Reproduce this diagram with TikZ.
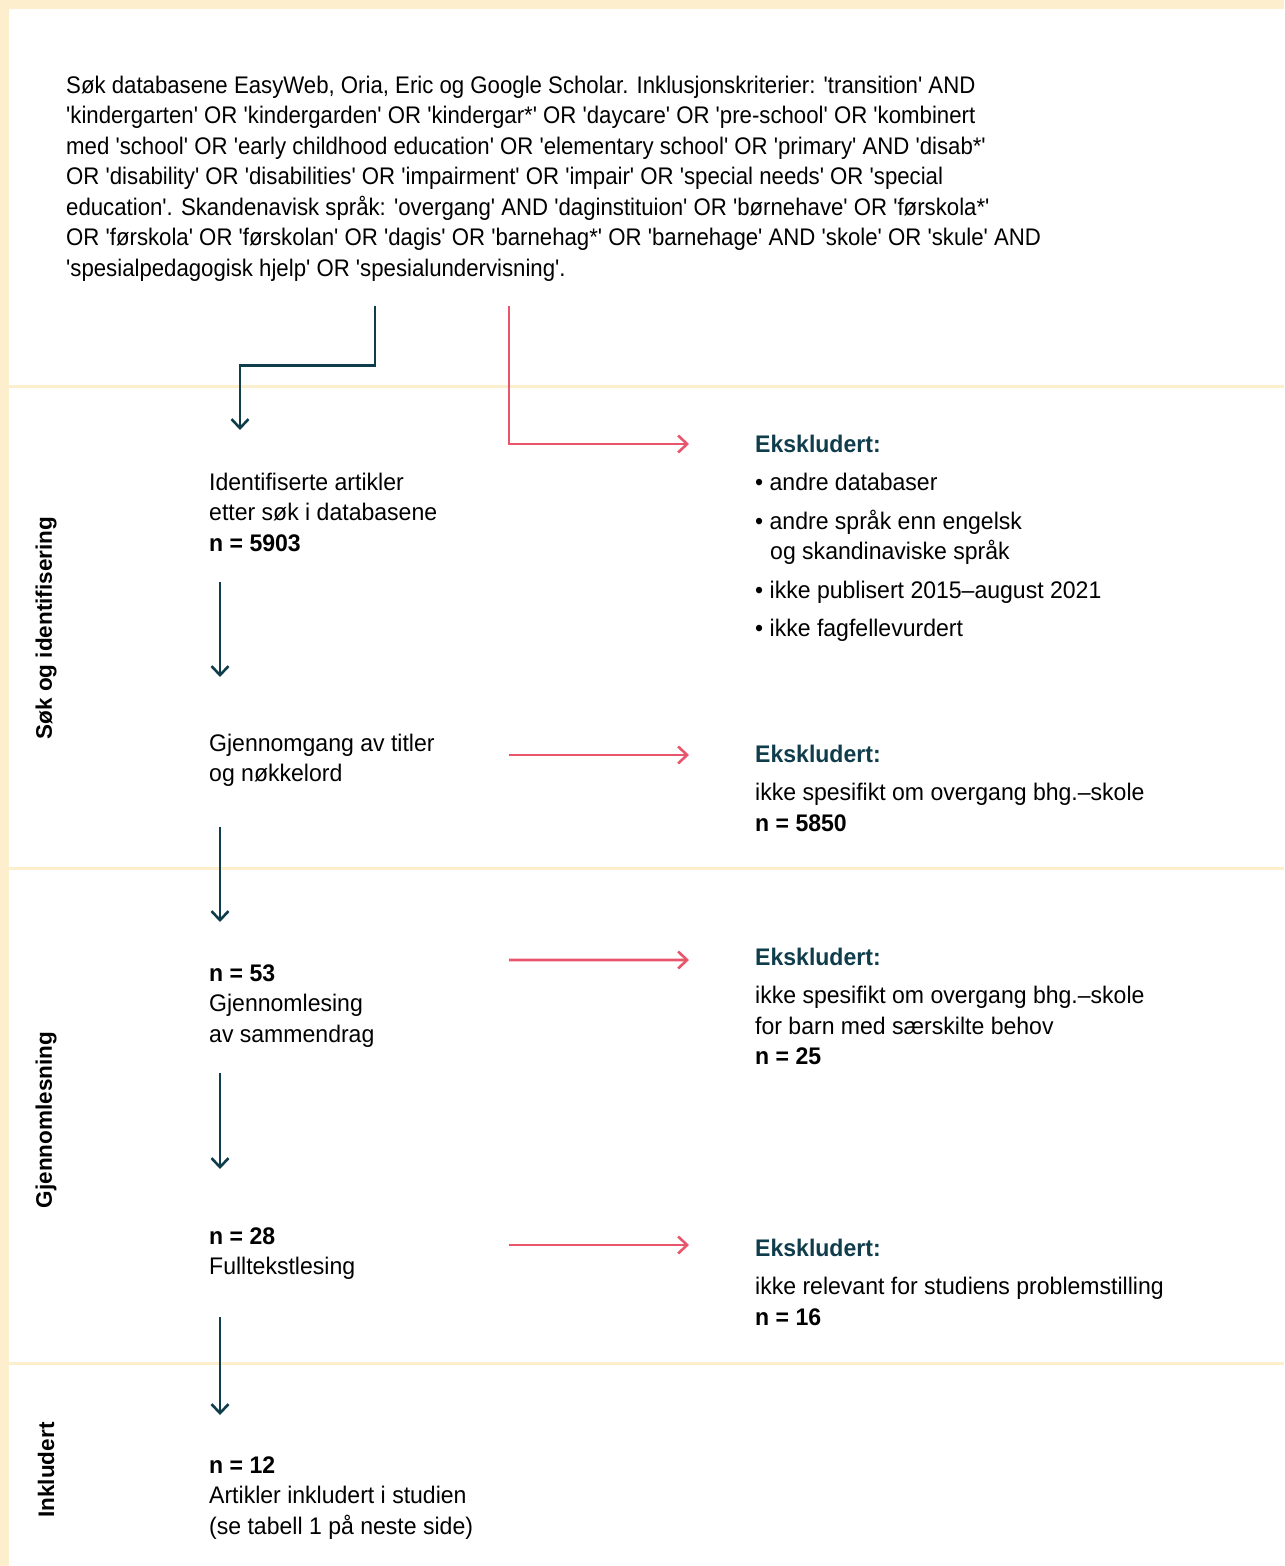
\documentclass[tikz,border=0pt]{standalone}
\usepackage{fontspec}
\setmainfont{Liberation Sans}[FakeStretch=0.96, Ligatures=TeXOff]
\newfontfamily\queryfont{Liberation Sans}[FakeStretch=0.925, Ligatures=TeXOff]
\newfontfamily\labelfont{Liberation Sans}[Ligatures=TeXOff]
\usetikzlibrary{
  arrows.meta,
  calc,
  positioning,
}
\definecolor{creamframe}{RGB}{253, 239, 206}
\definecolor{darkteal}{RGB}{15, 61, 76}
\definecolor{excludepink}{RGB}{233, 86, 107}
\newcommand{\exhead}{\textcolor{darkteal}{\textbf{Ekskludert:}}}
\tikzset{
  >={Straight Barb[length=9bp, width=17bp]},
}

\begin{document}
\begin{tikzpicture}[x=1bp, y=-1bp,
    txt/.style={anchor=north west, inner sep=0pt, align=left,
                font={\fontsize{24bp}{30.5bp}\selectfont}},
    side/.style={rotate=90, inner sep=0pt,
                 font={\labelfont\bfseries\fontsize{22.5bp}{27bp}\selectfont}},
    flow/.style={->, darkteal, line width=2.6bp},
    skip/.style={->, excludepink, line width=2.6bp},
    band/.style={creamframe, line width=3bp}]
  \useasboundingbox (0,0) rectangle (1284,1566);
  % frame and bands
  \fill [creamframe] (0,0) rectangle (1284,9);
  \fill [creamframe] (0,0) rectangle (9,1566);
  \draw [band] (9,386) -- (1284,386);
  \draw [band] (9,868) -- (1284,868);
  \draw [band] (9,1363) -- (1284,1363);
  \node [side] (phase1) at (46,628) {Søk og identifisering};
  \node [side] (phase2) at (46,1120) {Gjennomlesning};
  \node [side] (phase3) at (46,1470) {Inkludert};
  % search string
  \node [txt, font={\queryfont\fontsize{24bp}{30.5bp}\selectfont}] (query) at (66,75.5)
    {Søk databasene EasyWeb, Oria, Eric og Google Scholar. Inklusjonskriterier: 'transition' AND\\
    'kindergarten' OR 'kindergarden' OR 'kindergar*' OR 'daycare' OR 'pre-school' OR 'kombinert\\
    med 'school' OR 'early childhood education' OR 'elementary school' OR 'primary' AND 'disab*'\\
    OR 'disability' OR 'disabilities' OR 'impairment' OR 'impair' OR 'special needs' OR 'special\\
    education'. Skandenavisk språk: 'overgang' AND 'daginstituion' OR 'børnehave' OR 'førskola*'\\
    OR 'førskola' OR 'førskolan' OR 'dagis' OR 'barnehag*' OR 'barnehage' AND 'skole' OR 'skule' AND\\
    'spesialpedagogisk hjelp' OR 'spesialundervisning'.};
  % main flow
  \node [txt] (ident) at (209,472.5) {Identifiserte artikler\\ etter søk i databasene\\ \textbf{n = 5903}};
  \node [txt] (screen) at (209,733.5) {Gjennomgang av titler\\ og nøkkelord};
  \node [txt] (abstr) at (209,964.5) {\textbf{n = 53}\\ Gjennomlesing\\ av sammendrag};
  \node [txt] (full) at (209,1227.5) {\textbf{n = 28}\\ Fulltekstlesing};
  \node [txt] (incl) at (209,1456.5) {\textbf{n = 12}\\ Artikler inkludert i studien\\ (se tabell 1 på neste side)};
  % exclusions
  \node [txt] (ex1) at (755,434.5) {\exhead\\[8bp]
    • andre databaser\\[8bp]
    • andre språk enn engelsk\\ \hspace*{15bp}og skandinaviske språk\\[8bp]
    • ikke publisert 2015–august 2021\\[8bp]
    • ikke fagfellevurdert};
  \node [txt] (ex2) at (755,744.5) {\exhead\\[8bp] ikke spesifikt om overgang bhg.–skole\\ \textbf{n = 5850}};
  \node [txt] (ex3) at (755,947.5) {\exhead\\[8bp] ikke spesifikt om overgang bhg.–skole\\ for barn med særskilte behov\\ \textbf{n = 25}};
  \node [txt] (ex4) at (755,1238.5) {\exhead\\[8bp] ikke relevant for studiens problemstilling\\ \textbf{n = 16}};
  % connectors
  \draw [flow] ($(query.south west)+(309,25)$) -- ++(0,59) -| ($(ident.north west)+(31,-42.5)$);
  \draw [skip] ($(query.south west)+(443,25)$) |- ($(ex1.north west)+(-66,9.5)$);
  \draw [flow] ($(ident.south west)+(11,30)$) -- ($(screen.north west)+(11,-56.5)$);
  \draw [flow] ($(screen.south west)+(11,40)$) -- ($(abstr.north west)+(11,-42.5)$);
  \draw [flow] ($(abstr.south west)+(11,25)$) -- ($(full.north west)+(11,-58.5)$);
  \draw [flow] ($(full.south west)+(11,37)$) -- ($(incl.north west)+(11,-41.5)$);
  \draw [skip] ($(screen.north west)+(300,21.5)$) -- ($(ex2.north west)+(-66,10.5)$);
  \draw [skip] ($(abstr.north west)+(300,-4.5)$) -- ($(ex3.north west)+(-66,12.5)$);
  \draw [skip] ($(full.north west)+(300,17.5)$) -- ($(ex4.north west)+(-66,6.5)$);
\end{tikzpicture}
\end{document}
